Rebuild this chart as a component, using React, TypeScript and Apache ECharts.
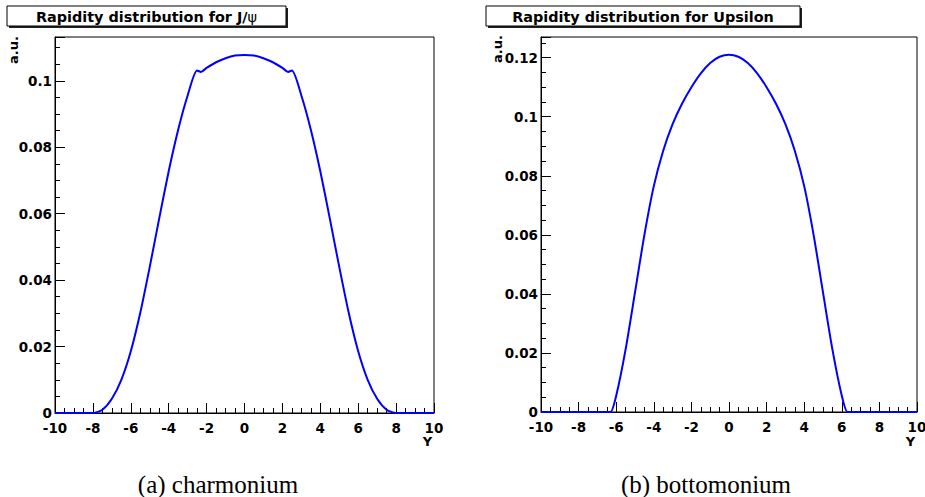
import React, { useEffect, useRef } from "react";
import * as echarts from "echarts";

// J/psi rapidity distribution (charmonium)
const yJpsi = [-10, -9, -8.5, -8, -7.5, -7, -6.5, -6, -5.5, -5, -4.5, -4, -3.5, -3, -2.5, -2.3, -2, -1.5, -1, -0.5, 0, 0.5, 1, 1.5, 2, 2.3, 2.5, 3, 3.5, 4, 4.5, 5, 5.5, 6, 6.5, 7, 7.5, 8, 8.5, 9, 10];
const auJpsi = [0, 0, 0, 0, 0.001, 0.0043, 0.01, 0.0186, 0.0302, 0.044, 0.0586, 0.0728, 0.0853, 0.0956, 0.1031, 0.1027, 0.1039, 0.1056, 0.1068, 0.1076, 0.1078, 0.1076, 0.1068, 0.1056, 0.1039, 0.1027, 0.1031, 0.0956, 0.0853, 0.0728, 0.0586, 0.044, 0.0302, 0.0186, 0.01, 0.0043, 0.001, 0, 0, 0, 0];

// Upsilon rapidity distribution (bottomonium)
const yUps = [-10, -8, -7, -6.5, -6.3, -6, -5.5, -5, -4.5, -4, -3.5, -3, -2.5, -2, -1.5, -1, -0.5, 0, 0.5, 1, 1.5, 2, 2.5, 3, 3.5, 4, 4.5, 5, 5.5, 6, 6.3, 6.5, 7, 8, 10];
const auUps = [0, 0, 0, 0, 0, 0.0055, 0.0212, 0.0405, 0.06, 0.0765, 0.0885, 0.0975, 0.1044, 0.11, 0.1147, 0.1182, 0.1203, 0.121, 0.1203, 0.1182, 0.1147, 0.11, 0.1044, 0.0975, 0.0885, 0.0765, 0.06, 0.0405, 0.0212, 0.0055, 0, 0, 0, 0, 0];

const xRange = [-10, 10];
const yMaxJpsi = 0.1132;
const yMaxUps = 0.127;
const titles = ["Rapidity distribution for J/", "Rapidity distribution for Upsilon"];
const captions = ["(a) charmonium", "(b) bottomonium"];

const LABEL_FONT = "DejaVu Sans";

function fmtY(v: number) {
  const k = v / 0.02;
  return Math.abs(k - Math.round(k)) < 1e-6 ? String(+v.toFixed(2)) : "";
}

function xAxisFor(gridIndex: number) {
  return {
    type: "value",
    gridIndex,
    min: xRange[0],
    max: xRange[1],
    interval: 2,
    axisLine: { show: true, onZero: false, lineStyle: { color: "#000", width: 1 } },
    axisTick: { show: true, inside: true, length: 10, lineStyle: { color: "#000", width: 1 } },
    minorTick: { show: true, splitNumber: 4, length: 5, lineStyle: { color: "#000", width: 1 } },
    splitLine: { show: false },
    minorSplitLine: { show: false },
    axisLabel: {
      margin: 9,
      color: "#000",
      fontFamily: LABEL_FONT,
      fontWeight: "bold",
      fontSize: 13.5,
      lineHeight: 11,
    },
  };
}

function yAxisMajor(gridIndex: number, max: number) {
  return {
    type: "value",
    gridIndex,
    position: "left",
    min: 0,
    max,
    interval: 0.02,
    axisLine: { show: true, onZero: false, lineStyle: { color: "#000", width: 1 } },
    axisTick: { show: true, inside: true, length: 10, lineStyle: { color: "#000", width: 1 } },
    splitLine: { show: false },
    axisLabel: {
      margin: 3,
      color: "#000",
      fontFamily: LABEL_FONT,
      fontWeight: "bold",
      fontSize: 13.5,
      lineHeight: 10,
      formatter: fmtY,
    },
  };
}

function yAxisMinor(gridIndex: number, max: number) {
  return {
    type: "value",
    gridIndex,
    position: "left",
    offset: 0,
    min: 0,
    max,
    interval: 0.005,
    axisLine: { show: false, onZero: false },
    axisTick: { show: true, inside: true, length: 5, lineStyle: { color: "#000", width: 1 } },
    splitLine: { show: false },
    axisLabel: { show: false },
  };
}

function titleBox(x: number, w: number, text: string, psi: boolean) {
  return [
    { type: "rect", shape: { x: x + 2, y: 8, width: w, height: 20 }, style: { fill: "#222" } },
    { type: "rect", shape: { x, y: 6, width: w, height: 20 }, style: { fill: "#fff", stroke: "#000", lineWidth: 1 } },
    {
      type: "text",
      x: x + w / 2,
      y: 16.5,
      style: {
        text: psi ? "{b|" + text + "}{s|ψ}" : "{b|" + text + "}",
        align: "center",
        verticalAlign: "middle",
        rich: {
          b: { fontFamily: LABEL_FONT, fontWeight: "bold", fontSize: 14.4, fill: "#000" },
          s: { fontFamily: LABEL_FONT, fontWeight: "normal", fontSize: 14.4, fill: "#000" },
        },
      },
    },
  ];
}

function smallText(x: number, y: number, text: string, rotation = 0) {
  return {
    type: "text",
    x,
    y,
    rotation,
    style: {
      text,
      align: "center",
      verticalAlign: "middle",
      fontFamily: LABEL_FONT,
      fontWeight: "bold",
      fontSize: 13,
      fill: "#000",
    },
  };
}

function caption(x: number, text: string) {
  return {
    type: "text",
    x,
    y: 484,
    style: {
      text,
      align: "center",
      verticalAlign: "middle",
      fontFamily: "Liberation Serif",
      fontSize: 25,
      fill: "#000",
    },
  };
}

export default function App() {
  const ref = useRef<HTMLDivElement>(null);
  useEffect(() => {
    if (!ref.current) return;
    const chart = echarts.init(ref.current, null, { renderer: "svg" });
    const gridBase = {
      show: true,
      borderColor: "#000",
      borderWidth: 1,
      backgroundColor: "rgba(0,0,0,0)",
      containLabel: false,
      outerBoundsMode: "none",
    };
    const lineSeries = (xi: number, yi: number, xs: number[], ys: number[]) => ({
      type: "line",
      xAxisIndex: xi,
      yAxisIndex: yi,
      data: xs.map((x, i) => [x, ys[i]]),
      showSymbol: false,
      smooth: 0.25,
      lineStyle: { color: "#0000ff", width: 2 },
      itemStyle: { color: "#0000ff" },
    });
    const option: any = {
      animation: false,
      backgroundColor: "#fff",
      grid: [
        { ...gridBase, left: 55, top: 37, right: 491, bottom: 84 },
        { ...gridBase, left: 541, top: 37, right: 8, bottom: 85 },
      ],
      xAxis: [xAxisFor(0), xAxisFor(1)],
      yAxis: [
        yAxisMajor(0, yMaxJpsi),
        yAxisMinor(0, yMaxJpsi),
        yAxisMajor(1, yMaxUps),
        yAxisMinor(1, yMaxUps),
      ],
      series: [lineSeries(0, 0, yJpsi, auJpsi), lineSeries(1, 2, yUps, auUps)],
      graphic: [
        ...titleBox(7, 279, titles[0], true),
        ...titleBox(486, 314, titles[1], false),
        smallText(13, 50, "a.u.", Math.PI / 2),
        smallText(497.5, 49, "a.u.", Math.PI / 2),
        smallText(427.5, 441.5, "Y"),
        smallText(910.5, 441, "Y"),
        caption(218, captions[0]),
        caption(706, captions[1]),
      ],
    };
    chart.setOption(option);
    return () => chart.dispose();
  }, []);
  return (
    <div
      ref={ref}
      style={{ position: "fixed", left: 0, top: 0, width: 925, height: 497, background: "#fff" }}
    />
  );
}
